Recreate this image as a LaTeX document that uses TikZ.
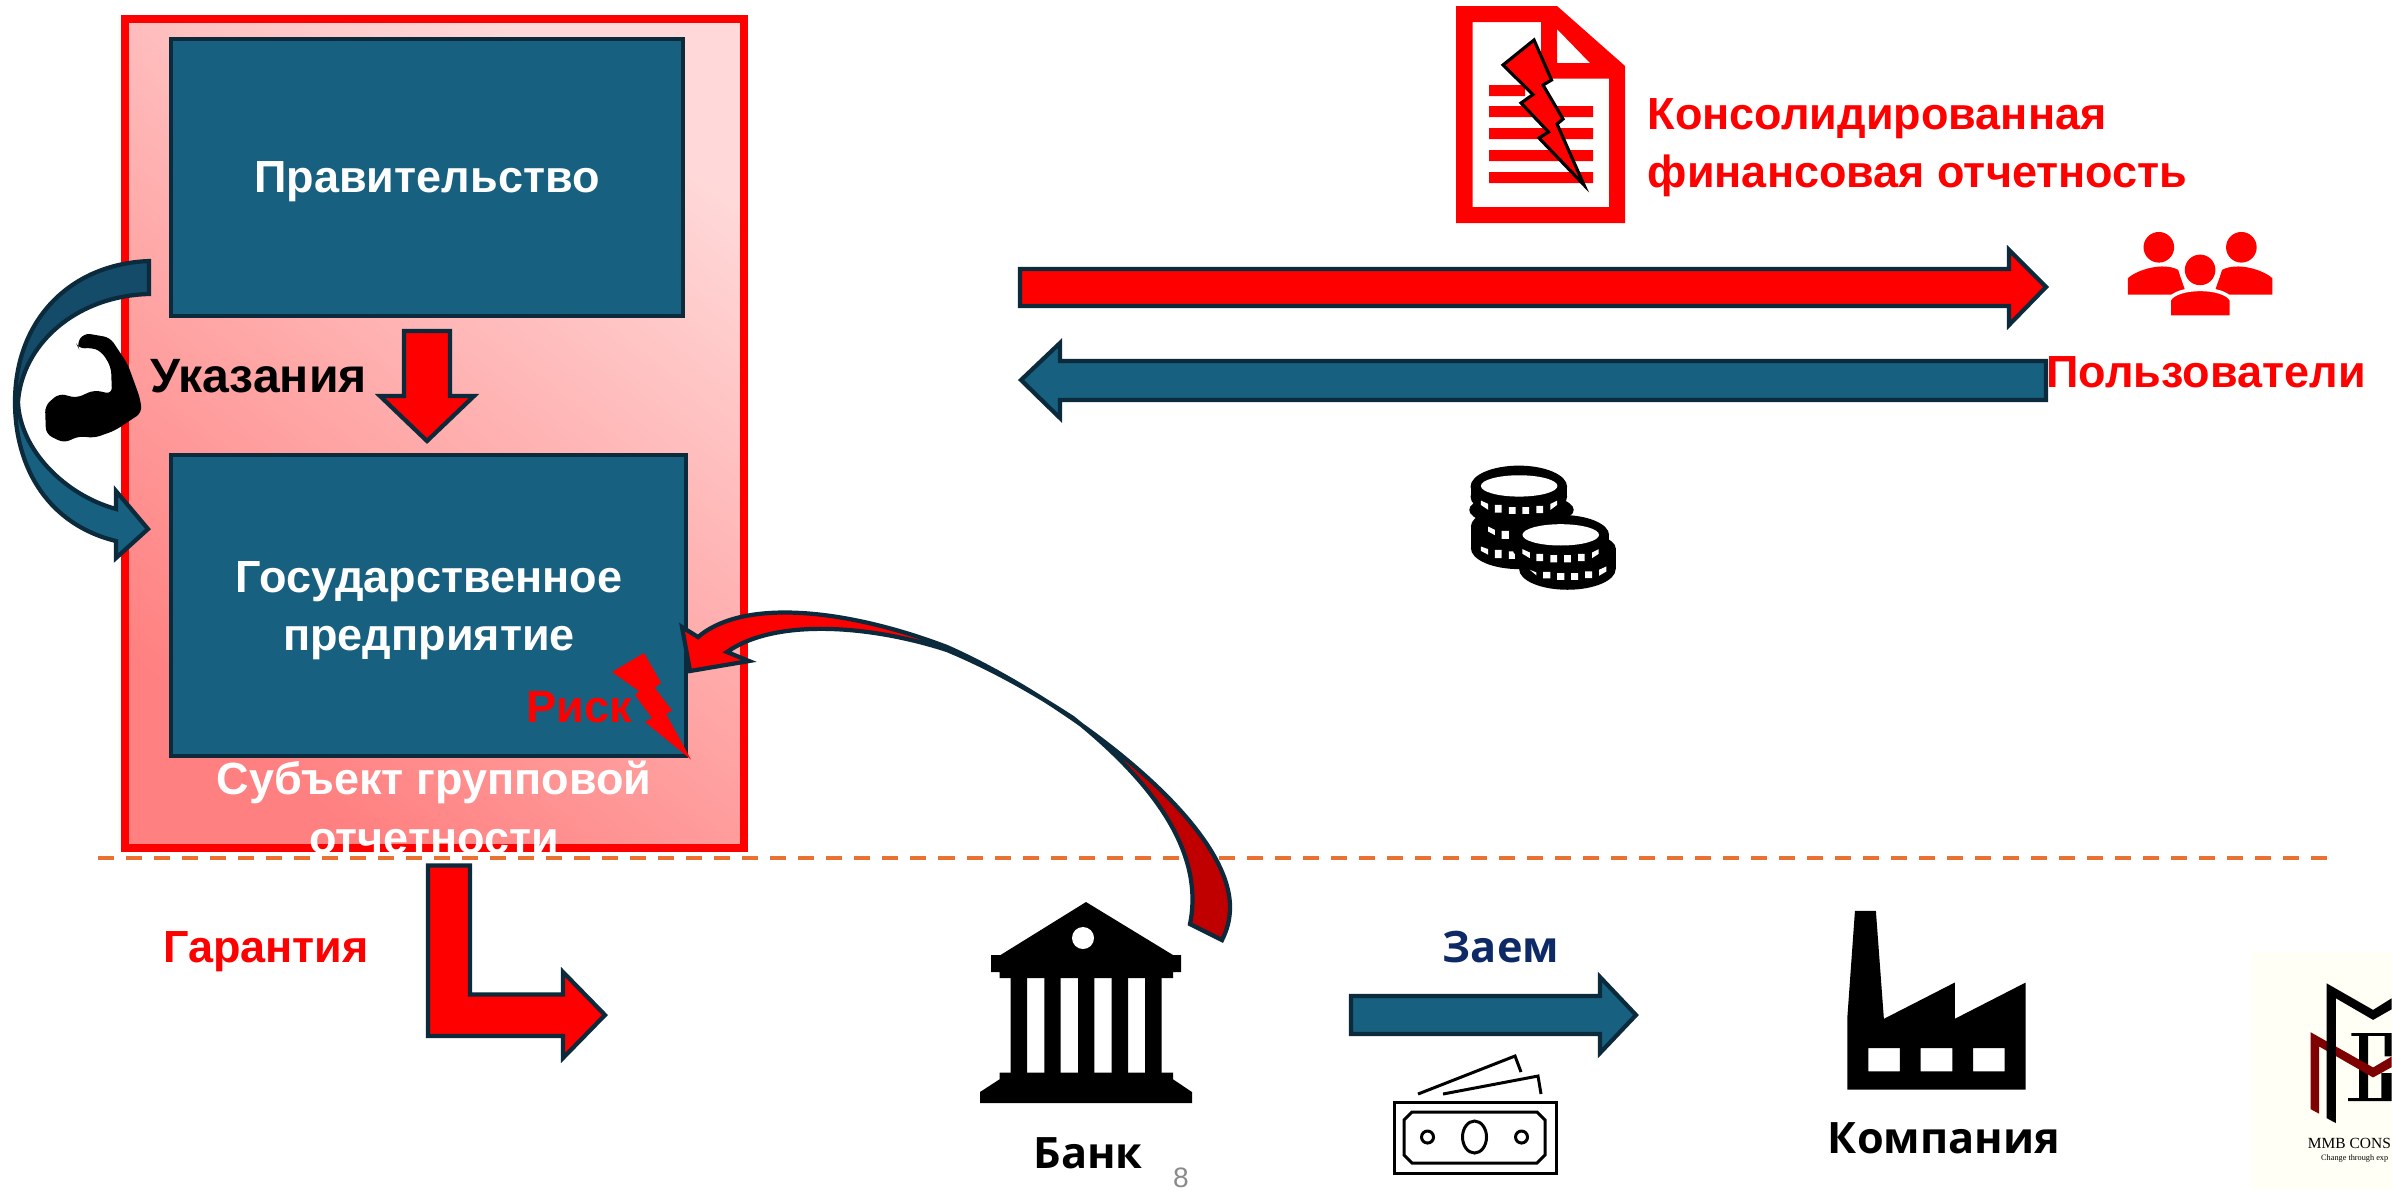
\documentclass[tikz,border=0pt]{standalone}
\usepackage{fontspec}
\setmainfont{Liberation Sans}
\newfontfamily\altf{Open Sans}
\newfontfamily\logof{Liberation Serif}
\definecolor{teal1}{HTML}{17607F}
\definecolor{teal2}{HTML}{134B69}
\definecolor{edge1}{HTML}{0B2A3C}
\definecolor{dash1}{HTML}{E97132}
\definecolor{navy1}{HTML}{0E2A66}
\definecolor{dkred}{HTML}{C00000}
\definecolor{ivory1}{HTML}{FFFFF6}
\definecolor{logored}{HTML}{7F0000}
\tikzset{
  x=0.01cm,y=-0.01cm,
  lbl/.style={font=\fontsize{12.8}{16.5}\selectfont\bfseries,inner sep=0pt,align=center},
  lblb/.style={font=\fontsize{12.3}{16}\selectfont\altf\bfseries,inner sep=0pt,align=center},
  boxn/.style={draw=edge1,fill=teal1,line width=1.2pt,inner sep=0pt},
  blockr/.style={draw=edge1,fill=red,line width=1.2pt},
  blockb/.style={draw=edge1,fill=teal1,line width=1.2pt},
}
\begin{document}
\begin{tikzpicture}
\useasboundingbox (0,0) rectangle (2392,1190);
% logo
\begin{scope}[shift={(2200,930)},x=0.00333cm,y=-0.00333cm]
\fill[ivory1] (153,65) rectangle (576,780);
\fill[black] (455,310) rectangle (576,318) (478,318) rectangle (505,505) (445,505) rectangle (576,514)
  (555,318) rectangle (576,380) (545,430) rectangle (576,505);
\fill[logored] (332,307) -- (520,413) -- (576,380) -- (576,412) -- (520,443) -- (358,350) -- (358,552) -- (332,538) -- cycle;
\fill[black] (380,160) -- (520,240) -- (576,205) -- (576,238) -- (520,270) -- (408,205) -- (408,580) -- (380,565) -- cycle;
\node[anchor=west,inner sep=0pt,font=\fontsize{4.4}{5}\selectfont\logof] (logoa) at (322,640) {MMB CONS};
\node[anchor=west,inner sep=0pt,font=\fontsize{2.35}{3}\selectfont\logof] (logob) at (362,688) {Change through exp};
\end{scope}
% outer rectangle
\path[shading=axis,top color=red!15,middle color=red!29,bottom color=red!50,shading angle=-38] (125,19) rectangle (744,848);
\draw[red,line width=.08cm] (125,19) rectangle (744,848);
% boxes
\node[boxn,minimum width=5.12cm,minimum height=2.77cm] (gov) at (427,177.5) {};
\node[boxn,minimum width=5.15cm,minimum height=3.005cm] (ent) at (428.5,605.5) {};
\node[lbl,text=white] (govt) at (427,182) {Правительство};
\node[lbl,text=white] (entt) at (429,611) {Государственное\\предприятие};
% down arrow
\draw[blockr] (404,331) -- (450,331) -- (450,396) -- (474,396) -- (427,441) -- (380,396) -- (404,396) -- cycle;
% group label
\node[lbl,text=white] (grp1) at (434,782) {Субъект групповой};
\node[lbl,text=white] (grp2) at (434,842) {отчетности};
% dashed line
\draw[dash1,line width=.04cm,dash pattern=on .16cm off .12cm] (98,858) -- (2330,858);
% left curved arrow
\fill[teal2] (150,261) .. controls (70,264) and (15,320) .. (15,402) -- (18,402) .. controls (22,345) and (75,296) .. (149,294) -- cycle;
\fill[teal1] (15,402) .. controls (15,470) and (50,525) .. (116,541) -- (116,558) -- (148,529) -- (116,491) -- (116,509) .. controls (65,495) and (20,450) .. (18,402) -- cycle;
\draw[edge1,line width=1.2pt] (149,294) .. controls (75,296) and (22,345) .. (18,402) .. controls (20,450) and (65,495) .. (116,509) -- (116,491) -- (148,529) -- (116,558) -- (116,541) .. controls (50,525) and (15,470) .. (15,402) .. controls (15,320) and (70,264) .. (149,261) -- cycle;
% arm
\fill[black,rounded corners=1.8pt] (76.5,344) -- (84,333) -- (110,337.5) -- (127.5,363.6) -- (140,398) -- (142,412.5) -- (115,430.5) -- (94,438) -- (79,436) -- (64,443) -- (46,434) -- (45,405.7) -- (59,393.4) -- (76.5,398) -- (94,390) -- (112,394) -- (111,367) -- (102,352) -- (92,347.5) -- (79,349) -- cycle;
\node[lbl,font=\fontsize{13.7}{16}\selectfont\bfseries] (ukaz) at (258.5,376) {Указания};
% bolt and risk
\node[lbl,text=red] (risk) at (579.5,707) {Риск};
\fill[red] (644,653) -- (661,683) -- (654.6,687.6) -- (672,710.5) -- (666,714) -- (691,759.5) -- (645,722) -- (652,718) -- (635,695) -- (639,691) -- (612,672) -- cycle;
% L arrow
\draw[blockr] (428,865.5) -- (470,865.5) -- (470,994.5) -- (563,994.5) -- (563,972) -- (605,1015) -- (563,1058) -- (563,1036) -- (428,1036) -- cycle;
\node[lbl,text=red] (gar) at (266,952) {Гарантия};
% bank guarantee curve
\fill[dkred] (698,637) .. controls (745,597) and (850,610) .. (947,647) .. controls (1060,697) and (1230,820) .. (1230,907) .. controls (1230,920) and (1227,930) .. (1222,940) -- (1190,924) .. controls (1205,850) and (1150,780) .. (1073,718) .. controls (1030,690) and (990,668) .. (947,650) .. controls (870,625) and (775,618) .. (727,652) -- (749,661) -- (690,671) -- (682,627) -- cycle;
\fill[red] (698,637) .. controls (745,597) and (850,610) .. (947,647) -- (947,650) .. controls (870,625) and (775,618) .. (727,652) -- (749,661) -- (690,671) -- (682,627) -- cycle;
\draw[edge1,line width=1.2pt] (698,637) .. controls (745,597) and (850,610) .. (947,647) .. controls (1060,697) and (1230,820) .. (1230,907) .. controls (1230,920) and (1227,930) .. (1222,940) -- (1190,924) .. controls (1205,850) and (1150,780) .. (1073,718) .. controls (1030,690) and (990,668) .. (947,650) .. controls (870,625) and (775,618) .. (727,652) -- (749,661) -- (690,671) -- (682,627) -- cycle;
% document
\fill[red,even odd rule] (1456,6) -- (1557,6) -- (1625,66) -- (1625,223) -- (1456,223) -- cycle
  (1472.5,22) -- (1541,22) -- (1541,78.5) -- (1609,78.5) -- (1609,207) -- (1472.5,207) -- cycle
  (1557,29) -- (1590,63) -- (1557,63) -- cycle;
\fill[red] (1489,85) rectangle (1525,96) (1489,106) rectangle (1593,117) (1489,128) rectangle (1593,139) (1489,150) rectangle (1593,161) (1489,172) rectangle (1593,183);
\filldraw[fill=red,draw=black,line width=.9pt] (1534,40) -- (1551.5,80) -- (1543,85) -- (1563,119) -- (1557,124) -- (1584,185) -- (1539,138) -- (1548.5,132) -- (1521,103) -- (1533,94.5) -- (1503,65) -- cycle;
\node[lbl,text=red,anchor=west,align=left] (cons) at (1647,148) {Консолидированная\\финансовая отчетность};
% big arrows
\draw[blockr] (1020,269) -- (2009,269) -- (2009,250) -- (2046,287) -- (2009,325) -- (2009,306) -- (1020,306) -- cycle;
\draw[blockb] (2046,361) -- (1060,361) -- (1060,343) -- (1021,380) -- (1060,418) -- (1060,400) -- (2046,400) -- cycle;
\node[lbl,text=red] (users) at (2206,372) {Пользователи};
% users icon
\begin{scope}[shift={(2040,210)},x=0.00333cm,y=-0.00333cm]
\fill[red] (264,254) -- (264,205) .. controls (290,180) and (370,155) .. (415,180) -- (440,254) -- cycle;
\fill[red] (698,254) -- (698,205) .. controls (672,180) and (592,155) .. (547,180) -- (522,254) -- cycle;
\fill[white] (481,180) circle (62);
\filldraw[fill=red,draw=white,line width=1pt] (388,322) -- (388,270) .. controls (410,228) and (553,228) .. (575,270) -- (575,322) -- cycle;
\fill[white] (370,323) rectangle (600,345);
\fill[red] (357,112) circle (46) (605,112) circle (46) (481,180) circle (46);
\end{scope}
% coins
\begin{scope}[shift={(1400,430)},x=0.00333cm,y=-0.00333cm]
\fill[black] (365,240) ellipse [x radius=157,y radius=50];
\fill[black] (358,290) ellipse [x radius=145,y radius=60];
\fill[black] (358,355) ellipse [x radius=145,y radius=63];
\fill[black] (213,290) rectangle (503,355);
\fill[black] (357,170) ellipse [x radius=145,y radius=63];
\fill[black] (357,200) ellipse [x radius=145,y radius=63];
\fill[black] (212,170) rectangle (502,200);
\fill[white] (358,168) ellipse [x radius=115,y radius=32];
\fill[white] (285,225) rectangle (305,248) (327,232) rectangle (347,252) (368,232) rectangle (388,252) (410,228) rectangle (430,250);
\fill[white] (243,212) -- (265,222) -- (265,240) -- (243,225) -- cycle;
\fill[white] (472,212) -- (452,222) -- (452,240) -- (472,225) -- cycle;
\fill[white] (265,290) -- (285,300) -- (285,316) -- (265,305) -- cycle;
\fill[white] (305,303) rectangle (327,327) (285,360) rectangle (305,385) (327,365) rectangle (345,387);
\fill[white] (243,350) -- (265,358) -- (265,375) -- (243,363) -- cycle;
\fill[black] (503,355) ellipse [x radius=145,y radius=50];
\fill[black] (503,418) ellipse [x radius=145,y radius=62];
\fill[black] (358,355) rectangle (648,418);
\fill[black] (483,315) ellipse [x radius=145,y radius=60];
\fill[black] (483,355) ellipse [x radius=145,y radius=60];
\fill[black] (338,315) rectangle (628,355);
\fill[white] (483,315) ellipse [x radius=115,y radius=32];
\fill[white] (410,372) rectangle (430,394) (452,376) rectangle (472,398) (493,376) rectangle (513,398) (535,372) rectangle (555,394);
\fill[white] (368,358) -- (390,368) -- (390,385) -- (368,372) -- cycle;
\fill[white] (597,358) -- (577,368) -- (577,385) -- (597,372) -- cycle;
\fill[white] (430,426) rectangle (452,446) (472,430) rectangle (494,450) (514,430) rectangle (535,450) (556,425) rectangle (577,445);
\fill[white] (390,420) -- (410,428) -- (410,437) -- cycle;
\fill[white] (620,410) -- (598,420) -- (598,438) -- (620,425) -- cycle;
\end{scope}
% bank
\fill[black] (1086,902) -- (1173,955) -- (1181,955) -- (1181,972) -- (1173,972) -- (1173,978) -- (999.5,978) -- (999.5,972) -- (991,972) -- (991,955) -- (1000.5,955) -- cycle;
\fill[white] (1083,938) ellipse [x radius=11,y radius=11];
\fill[black] (1010.7,978) rectangle (1027,1073) (1044.4,978) rectangle (1060.7,1073) (1078,978) rectangle (1094.4,1073) (1111.7,978) rectangle (1128,1073) (1145,978) rectangle (1161.7,1073);
\fill[black] (999.5,1072.7) -- (1173,1072.7) -- (1173,1079.3) -- (1192,1092) -- (1192,1103) -- (980,1103) -- (980,1092) -- (999.5,1079.3) -- cycle;
\node[lblb] (bank) at (1088,1153) {Банк};
\node[inner sep=0pt,text=black!46,font=\fontsize{8}{10}\selectfont] (pg) at (1181,1178) {8};
% loan arrow
\draw[blockb] (1351,996) -- (1600,996) -- (1600,977) -- (1636,1015) -- (1600,1053) -- (1600,1034) -- (1351,1034) -- cycle;
\node[lblb,text=navy1] (loan) at (1501,947) {Заем};
% banknote
\draw[black,line width=.85pt] (1394.5,1102) rectangle (1556,1173);
\draw[black,line width=.85pt] (1412,1112) -- (1537,1112) -- (1545,1120) -- (1545,1155) -- (1537,1163) -- (1412,1163) -- (1404,1155) -- (1404,1120) -- cycle;
\draw[black,line width=.85pt] (1474.5,1137) ellipse [x radius=12,y radius=16];
\draw[black,line width=.85pt] (1427.5,1137) circle (6) (1521.5,1137) circle (6);
\draw[black,line width=.85pt] (1418,1094) -- (1515,1056) -- (1521,1072);
\draw[black,line width=.85pt] (1443,1094) -- (1538,1076) -- (1541,1094);
% factory
\begin{scope}[shift={(1800,890)},x=0.00333cm,y=-0.00333cm]
\fill[black,even odd rule] (165,63) -- (228,63) -- (252,387) -- (465,278) -- (465,387) -- (678,278) -- (678,600) -- (142,600) -- (142,385) -- cycle
 (205,475) rectangle (300,545) (362,475) rectangle (458,545) (520,475) rectangle (615,545);
\end{scope}
\node[lblb] (comp) at (1944,1138) {Компания};
\end{tikzpicture}
\end{document}
